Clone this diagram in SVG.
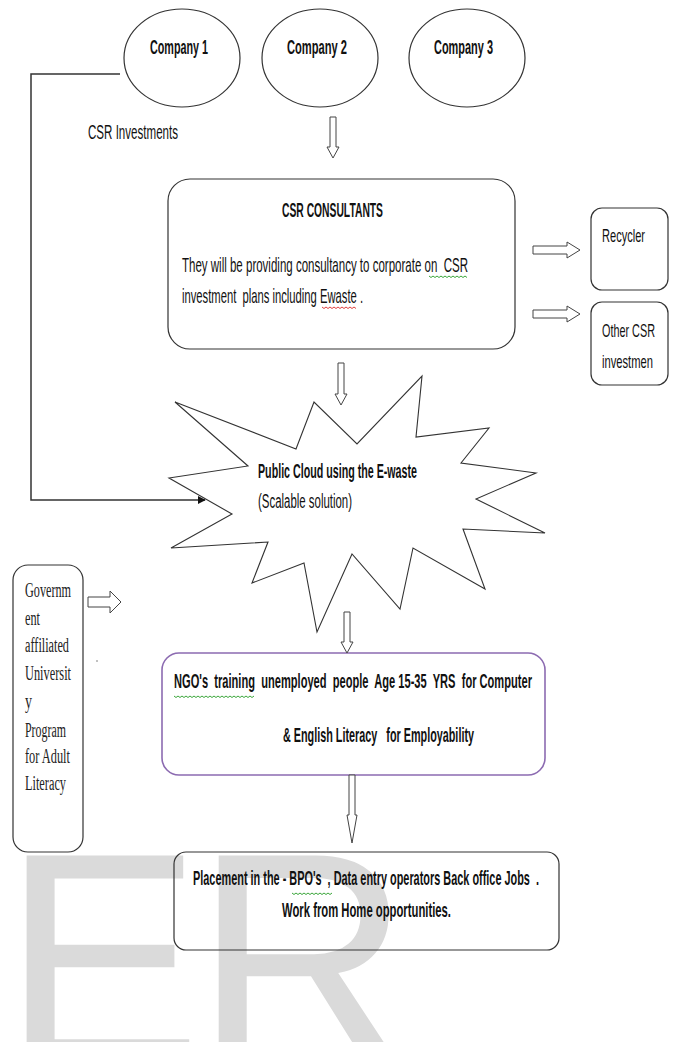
<svg xmlns="http://www.w3.org/2000/svg" width="675" height="1042" viewBox="0 0 675 1042">
<style>
  .bg{fill:#ffffff}
  .wm{font-family:"Liberation Sans",Arial,sans-serif;font-size:300px;fill:#dadada}
  .node{fill:none;stroke:#333;stroke-width:1.2}
  .ngo{fill:none;stroke:#8c6bb1;stroke-width:1.6}
  .star{fill:#ffffff;stroke:#333;stroke-width:1.1;stroke-linejoin:miter}
  .t{font-family:"Liberation Sans Narrow","Liberation Sans",Arial,sans-serif;fill:#111;white-space:pre}
  .b{font-weight:bold}
  .serif{font-family:"Liberation Serif","Times New Roman",serif;fill:#222;font-size:20px}
  .arr{fill:#fff;stroke:#444;stroke-width:1}
  .line{fill:none;stroke:#333;stroke-width:1.5}
  .sqg{fill:none;stroke:#3aa63a;stroke-width:1}
  .sqr{fill:none;stroke:#e04040;stroke-width:1}
</style>
<defs>
  <marker id="ah" viewBox="0 0 10 10" refX="9" refY="5" markerWidth="8" markerHeight="8" orient="auto" markerUnits="userSpaceOnUse">
    <path d="M0,0 L10,5 L0,10 Z" fill="#111"/>
  </marker>
</defs>
<rect class="bg" x="0" y="0" width="675" height="1042"/>
<text class="wm" x="2" y="1062" letter-spacing="-8">ER</text>

<g id="company1">
  <ellipse class="node" cx="182" cy="58" rx="58" ry="49"/>
  <text class="t b" x="150" y="54" font-size="20" textLength="58" lengthAdjust="spacingAndGlyphs">Company 1</text>
</g>
<g id="company2">
  <ellipse class="node" cx="320" cy="58" rx="58" ry="49"/>
  <text class="t b" x="287" y="54" font-size="20" textLength="60" lengthAdjust="spacingAndGlyphs">Company 2</text>
</g>
<g id="company3">
  <ellipse class="node" cx="467" cy="58" rx="58" ry="49"/>
  <text class="t b" x="434" y="54" font-size="20" textLength="59" lengthAdjust="spacingAndGlyphs">Company 3</text>
</g>

<g id="csr-investments-label">
  <text class="t" x="88" y="139" font-size="20" textLength="90" lengthAdjust="spacingAndGlyphs">CSR Investments</text>
</g>

<g id="csr-consultants">
  <rect class="node" x="168" y="179" width="347" height="170" rx="22" ry="22"/>
  <text class="t b" x="282" y="217" font-size="20" textLength="101" lengthAdjust="spacingAndGlyphs">CSR CONSULTANTS</text>
  <text class="t" x="182" y="272" font-size="21" textLength="286" lengthAdjust="spacingAndGlyphs">They will be providing consultancy to corporate on  CSR</text>
  <text class="t" x="182" y="303" font-size="21" textLength="181" lengthAdjust="spacingAndGlyphs">investment  plans including Ewaste .</text>
  <path class="sqg" d="M429,276 l2,1.5 l2,-1.5 l2,1.5 l2,-1.5 l2,1.5 l2,-1.5 l2,1.5 l2,-1.5 l2,1.5 l2,-1.5 l2,1.5 l2,-1.5 l2,1.5 l2,-1.5 l2,1.5 l2,-1.5 l2,1.5 l2,-1.5 l2,1.5"/>
  <path class="sqr" d="M322,307 l2,1.5 l2,-1.5 l2,1.5 l2,-1.5 l2,1.5 l2,-1.5 l2,1.5 l2,-1.5 l2,1.5 l2,-1.5 l2,1.5 l2,-1.5 l2,1.5 l2,-1.5 l2,1.5 l2,-1.5 l2,1.5"/>
</g>

<g id="recycler">
  <rect class="node" x="591" y="208" width="77" height="82" rx="11" ry="11"/>
  <text class="t" x="602" y="242" font-size="19" textLength="43" lengthAdjust="spacingAndGlyphs">Recycler</text>
</g>
<g id="other-csr">
  <rect class="node" x="591" y="302" width="77" height="83" rx="11" ry="11"/>
  <text class="t" x="602" y="337" font-size="19" textLength="53" lengthAdjust="spacingAndGlyphs">Other CSR</text>
  <text class="t" x="602" y="368" font-size="19" textLength="51" lengthAdjust="spacingAndGlyphs">investmen</text>
</g>

<g id="public-cloud">
  <polygon class="star" points="175,402 296,449 314,402 357,444 422,376 416,437 489,428 461,463 536,473 476,499 545,533 463,529 485,589 413,548 400,609 352,554 317,632 304,563 252,583 268,542 171,548 232,514 169,478 248,466"/>
  <text class="t b" x="258" y="478" font-size="20" textLength="159" lengthAdjust="spacingAndGlyphs">Public Cloud using the E-waste</text>
  <text class="t" x="258" y="508" font-size="20" textLength="94" lengthAdjust="spacingAndGlyphs">(Scalable solution)</text>
</g>

<g id="government">
  <rect class="node" x="13" y="565" width="70" height="287" rx="15" ry="15"/>
  <text class="serif" x="25" y="597" textLength="46" lengthAdjust="spacingAndGlyphs">Governm</text>
  <text class="serif" x="25" y="625" textLength="15" lengthAdjust="spacingAndGlyphs">ent</text>
  <text class="serif" x="25" y="652" textLength="44" lengthAdjust="spacingAndGlyphs">affiliated</text>
  <text class="serif" x="25" y="680" textLength="46" lengthAdjust="spacingAndGlyphs">Universit</text>
  <text class="serif" x="25" y="708" textLength="7" lengthAdjust="spacingAndGlyphs">y</text>
  <text class="serif" x="25" y="737" textLength="41" lengthAdjust="spacingAndGlyphs">Program</text>
  <text class="serif" x="25" y="763" textLength="45" lengthAdjust="spacingAndGlyphs">for Adult</text>
  <text class="serif" x="25" y="790" textLength="41" lengthAdjust="spacingAndGlyphs">Literacy</text>
</g>

<g id="ngo-training">
  <rect class="ngo" x="162" y="653" width="383" height="122" rx="17" ry="17"/>
  <text class="t b" x="174" y="688" font-size="21" textLength="358" lengthAdjust="spacingAndGlyphs">NGO's  training  unemployed  people  Age 15-35  YRS  for Computer</text>
  <text class="t b" x="283" y="742" font-size="21" textLength="191" lengthAdjust="spacingAndGlyphs">&amp; English Literacy   for Employability</text>
  <path class="sqg" d="M174,696 l2,1.5 l2,-1.5 l2,1.5 l2,-1.5 l2,1.5 l2,-1.5 l2,1.5 l2,-1.5 l2,1.5 l2,-1.5 l2,1.5 l2,-1.5 l2,1.5 l2,-1.5 l2,1.5 l2,-1.5 l2,1.5 l2,-1.5 l2,1.5 l2,-1.5 l2,1.5 l2,-1.5 l2,1.5 l2,-1.5 l2,1.5 l2,-1.5 l2,1.5 l2,-1.5 l2,1.5 l2,-1.5 l2,1.5 l2,-1.5 l2,1.5 l2,-1.5 l2,1.5 l2,-1.5 l2,1.5 l2,-1.5 l2,1.5 l2,-1.5"/>
</g>

<g id="placement">
  <rect class="node" x="174" y="852" width="385" height="98" rx="12" ry="12"/>
  <text class="t b" x="193" y="885" font-size="21" textLength="346" lengthAdjust="spacingAndGlyphs">Placement in the - BPO's  , Data entry operators Back office Jobs  .</text>
  <text class="t b" x="282" y="917" font-size="21" textLength="169" lengthAdjust="spacingAndGlyphs">Work from Home opportunities.</text>
  <path class="sqg" d="M292,893 l2,1.5 l2,-1.5 l2,1.5 l2,-1.5 l2,1.5 l2,-1.5 l2,1.5 l2,-1.5 l2,1.5 l2,-1.5 l2,1.5 l2,-1.5 l2,1.5 l2,-1.5 l2,1.5 l2,-1.5 l2,1.5 l2,-1.5 l2,1.5 l2,-1.5"/>
</g>

<g id="connectors">
  <polyline class="line" points="120,74 31,74 31,500 205,500" marker-end="url(#ah)"/>
  <path class="arr" d="M330,117 H336 V147 H339 L333,158 L327,147 H330 Z"/>
  <path class="arr" d="M338,363 H344 V394 H347 L341,405 L335,394 H338 Z"/>
  <path class="arr" d="M344,612 H350 V642 H353 L347,653 L341,642 H344 Z"/>
  <path class="arr" d="M349,775 H355 V815 H357 L352,843 L347,815 H349 Z"/>
  <path class="arr" d="M533,246 H567 V242 L580,250 L567,258 V254 H533 Z"/>
  <path class="arr" d="M533,310 H567 V306 L580,314 L567,322 V318 H533 Z"/>
  <path class="arr" d="M88,597 H110 V591 L121,602 L110,613 V607 H88 Z"/>
</g>
<circle cx="97" cy="661" r="0.7" fill="#555"/>
</svg>
